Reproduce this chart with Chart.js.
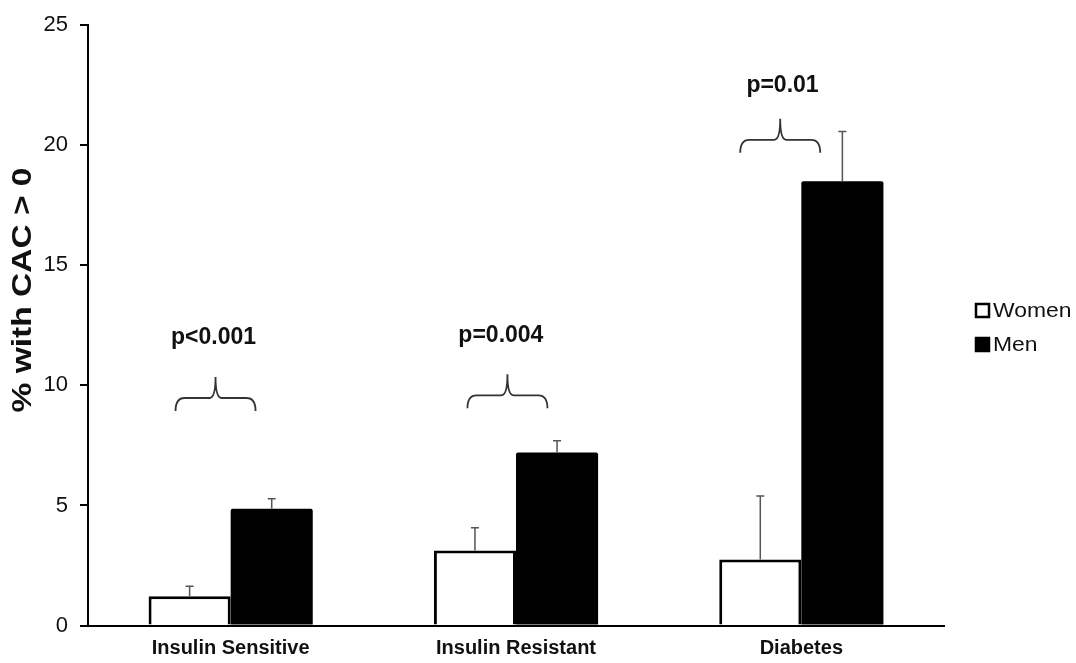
<!DOCTYPE html>
<html>
<head>
<meta charset="utf-8">
<script src="https://cdn.jsdelivr.net/npm/chart.js@4.4.1/dist/chart.umd.min.js"></script>
<style>
  html, body { margin: 0; padding: 0; background: #fff; }
  #wrap { width: 1076px; height: 663px; position: relative; }
</style>
</head>
<body>
<div id="wrap"><canvas id="chart"></canvas></div>
<script>
// Data
const categories = ['Insulin Sensitive', 'Insulin Resistant', 'Diabetes'];
const womenValues = [1.22, 3.12, 2.75];
const womenUpper = [1.63, 4.07, 5.39];
const menValues = [4.86, 7.20, 18.5];
const menUpper = [5.28, 7.69, 20.57];
const yTicks = [0, 5, 10, 15, 20, 25];

// p-value annotations (category index, value units)
const pLabels = ['p<0.001', 'p=0.004', 'p=0.01'];
const pLabelX = [-0.06, 0.947, 1.934];
const pLabelY = [11.98, 12.05, 22.5];
const braceX = [-0.053, 0.970, 1.926];
const braceTipY = [10.35, 10.46, 21.1];

const FONT = '"Liberation Sans", Arial, sans-serif';

// Upper-only error bars with a small cap
const errorBars = {
    id: 'errorBars',
    afterDatasetsDraw(chart) {
        const ctx = chart.ctx;
        const y = chart.scales.y;
        const uppers = [womenUpper, menUpper];
        ctx.save();
        ctx.strokeStyle = '#555';
        ctx.lineWidth = 1.5;
        chart.data.datasets.forEach((ds, di) => {
            const meta = chart.getDatasetMeta(di);
            meta.data.forEach((bar, i) => {
                const top = y.getPixelForValue(uppers[di][i]);
                ctx.beginPath();
                ctx.moveTo(bar.x, bar.y);
                ctx.lineTo(bar.x, top);
                ctx.moveTo(bar.x - 4, top);
                ctx.lineTo(bar.x + 4, top);
                ctx.stroke();
            });
        });
        ctx.restore();
    }
};

function drawStretched(ctx, text, x, y, font, width, angle) {
    ctx.save();
    ctx.font = font;
    const natural = ctx.measureText(text).width;
    ctx.translate(x, y);
    if (angle) ctx.rotate(angle);
    ctx.scale(width ? width / natural : 1, 1);
    ctx.textAlign = 'center';
    ctx.textBaseline = 'middle';
    ctx.fillText(text, 0, 0);
    ctx.restore();
}

// Braces, p-values, y title and legend
const annotations = {
    id: 'annotations',
    afterDraw(chart) {
        const ctx = chart.ctx;
        const xs = chart.scales.x;
        const ys = chart.scales.y;
        ctx.save();
        ctx.fillStyle = '#111';
        pLabels.forEach((txt, i) => {
            drawStretched(ctx, txt, xs.getPixelForValue(pLabelX[i]), ys.getPixelForValue(pLabelY[i]),
                'bold 23px ' + FONT, 0, 0);
        });

        ctx.strokeStyle = '#333';
        ctx.lineWidth = 1.8;
        braceX.forEach((bx, i) => {
            const c = xs.getPixelForValue(bx);
            const tip = ys.getPixelForValue(braceTipY[i]);
            const hw = 40, mid = tip + 21, end = tip + 34;
            ctx.beginPath();
            ctx.moveTo(c - hw, end);
            ctx.quadraticCurveTo(c - hw, mid, c - hw + 9, mid);
            ctx.lineTo(c - 6, mid);
            ctx.quadraticCurveTo(c, mid, c, tip);
            ctx.quadraticCurveTo(c, mid, c + 6, mid);
            ctx.lineTo(c + hw - 9, mid);
            ctx.quadraticCurveTo(c + hw, mid, c + hw, end);
            ctx.stroke();
        });

        // y axis title
        ctx.fillStyle = '#111';
        drawStretched(ctx, '% with CAC > 0', 23, 290, 'bold 28px ' + FONT, 245, -Math.PI / 2);

        // legend
        const items = [
            { label: 'Women', fill: '#fff', y: 311 },
            { label: 'Men', fill: '#000', y: 345 }
        ];
        items.forEach(it => {
            ctx.fillStyle = it.fill;
            ctx.fillRect(976, it.y - 7, 13, 13);
            ctx.strokeStyle = '#000';
            ctx.lineWidth = 2.5;
            ctx.strokeRect(976, it.y - 7, 13, 13);
            ctx.fillStyle = '#111';
            ctx.save();
            ctx.font = '21px ' + FONT;
            const w = ctx.measureText(it.label).width;
            ctx.translate(993, it.y);
            ctx.scale(1.09, 1);
            ctx.textAlign = 'left';
            ctx.textBaseline = 'middle';
            ctx.fillText(it.label, 0, 0);
            ctx.restore();
        });
        ctx.restore();
    }
};

new Chart(document.getElementById('chart'), {
    type: 'bar',
    data: {
        labels: categories,
        datasets: [
            {
                label: 'Women',
                data: womenValues,
                backgroundColor: '#fff',
                borderColor: '#000',
                borderWidth: 3,
                borderSkipped: 'bottom'
            },
            {
                label: 'Men',
                data: menValues,
                backgroundColor: '#000',
                borderColor: '#000',
                borderWidth: 0,
                borderRadius: 2
            }
        ]
    },
    options: {
        responsive: true,
        maintainAspectRatio: false,
        animation: false,
        events: [],
        layout: { padding: { top: 20, right: 132, bottom: 0, left: 0 } },
        datasets: {
            bar: { categoryPercentage: 0.5754, barPercentage: 1 }
        },
        plugins: {
            legend: { display: false },
            tooltip: { enabled: false }
        },
        scales: {
            x: {
                grid: { display: false, drawTicks: false },
                border: { display: true, color: '#000', width: 2 },
                ticks: {
                    color: '#111',
                    padding: 11,
                    font: { family: FONT, size: 20, weight: 'bold' }
                },
                afterFit: s => { s.height = 37.5; }
            },
            y: {
                min: 0,
                max: 25,
                afterBuildTicks: s => { s.ticks = yTicks.map(v => ({ value: v })); },
                grid: { drawOnChartArea: false, drawTicks: true, tickLength: 8, color: '#000', lineWidth: 2 },
                border: { display: true, color: '#000', width: 2 },
                ticks: {
                    color: '#111',
                    padding: 12,
                    font: { family: FONT, size: 22 }
                },
                afterFit: s => { s.width = 88; }
            }
        }
    },
    plugins: [errorBars, annotations]
});
</script>
</body>
</html>
